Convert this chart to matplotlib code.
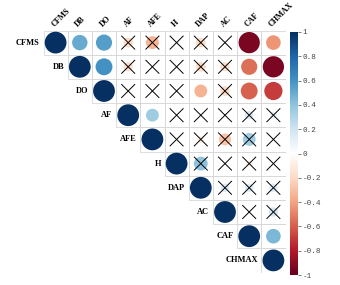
import numpy as np
import matplotlib
matplotlib.use("Agg")
import matplotlib.pyplot as plt
from matplotlib.colors import LinearSegmentedColormap
from matplotlib.patches import Circle, Rectangle

plt.rcParams['axes.unicode_minus'] = False

labels = ["CFMS", "DB", "DO", "AF", "AFE", "H", "DAP", "AC", "CAF", "CHMAX"]

# upper-triangle correlations, each row starting at the diagonal
corr_rows = [
    [1, 0.50, 0.55, -0.20, -0.35, -0.03, -0.20, 0.02, -0.95, -0.45],
    [1, 0.60, -0.18, 0.00, 0.02, -0.20, -0.18, -0.55, -0.95],
    [1, 0.00, -0.02, 0.02, -0.35, -0.20, -0.60, -0.70],
    [1, 0.35, 0.00, 0.02, 0.00, 0.15, 0.10],
    [1, 0.00, -0.10, -0.30, 0.35, 0.02],
    [1, 0.40, 0.00, -0.08, 0.02],
    [1, 0.15, 0.15, 0.15],
    [1, 0.00, 0.18],
    [1, 0.45],
    [1],
]
# 1 = not significant (crossed)
insig_rows = [
    [0, 0, 0, 1, 1, 1, 1, 1, 0, 0],
    [0, 0, 1, 1, 1, 1, 1, 0, 0],
    [0, 1, 1, 1, 0, 1, 0, 0],
    [0, 0, 1, 1, 1, 1, 1],
    [0, 1, 1, 1, 1, 1],
    [0, 1, 1, 1, 1],
    [0, 1, 1, 1],
    [0, 1, 1],
    [0, 0],
    [0],
]

cbar_ticks = [1, 0.8, 0.6, 0.4, 0.2, 0, -0.2, -0.4, -0.6, -0.8, -1]
cbar_ticklabels = ["1", "0.8", "0.6", "0.4", "0.2", "0", "-0.2", "-0.4", "-0.6", "-0.8", "-1"]

cols = ["#67001F", "#B2182B", "#D6604D", "#F4A582", "#FDDBC7", "#FFFFFF",
        "#D1E5F0", "#92C5DE", "#4393C3", "#2166AC", "#053061"]
cmap = LinearSegmentedColormap.from_list("rdbu", cols, N=200)

W, H = 340, 285
fig = plt.figure(figsize=(W / 100, H / 100), dpi=100)

gl, gt, gs = 43.5, 30.5, 242.0
ax = fig.add_axes([gl / W, (H - gt - gs) / H, gs / W, gs / H])
n = len(labels)
ax.set_xlim(0, n)
ax.set_ylim(n, 0)
ax.axis("off")

serif = "Liberation Serif"
mono = "Liberation Mono"
for i in range(n):
    for k, r in enumerate(corr_rows[i]):
        j = i + k
        ax.add_patch(Rectangle((j, i), 1, 1, fill=False, ec="#d8d8d8", lw=0.6))
for i in range(n):
    for k, r in enumerate(corr_rows[i]):
        j = i + k
        rad = 0.45 * np.sqrt(abs(r))
        ax.add_patch(Circle((j + 0.5, i + 0.5), rad, fc=cmap((r + 1) / 2), ec="none"))
        if insig_rows[i][k]:
            d = 0.27
            ax.plot([j + 0.5 - d, j + 0.5 + d], [i + 0.5 - d, i + 0.5 + d], color="black", lw=0.7)
            ax.plot([j + 0.5 - d, j + 0.5 + d], [i + 0.5 + d, i + 0.5 - d], color="black", lw=0.7)
    ax.text(i - 0.15, i + 0.5, labels[i], ha="right", va="center", fontsize=6.0,
            fontweight="bold", family=serif, color="black")
    ax.text(i + 0.5, -0.08, labels[i], ha="left", va="bottom", fontsize=5.8,
            fontweight="bold", family=serif, color="black", rotation=45,
            rotation_mode="anchor", clip_on=False)

# colorbar
cx, ct, cw, ch = 290.0, 32.0, 8.0, 243.0
cax = fig.add_axes([cx / W, (H - ct - ch) / H, cw / W, ch / H])
grad = np.linspace(-1, 1, 200).reshape(-1, 1)
cax.imshow(grad, aspect="auto", cmap=cmap, origin="lower", extent=[0, 1, -1, 1])
cax.set_xticks([])
cax.yaxis.tick_right()
cax.set_yticks(cbar_ticks)
cax.set_yticklabels(cbar_ticklabels, family=mono, fontsize=5.5, color="#444444")
cax.tick_params(axis="y", length=2, width=0.5, pad=1.5, color="#444444")
for s in cax.spines.values():
    s.set_visible(False)

fig.savefig("out.png", dpi=100)
